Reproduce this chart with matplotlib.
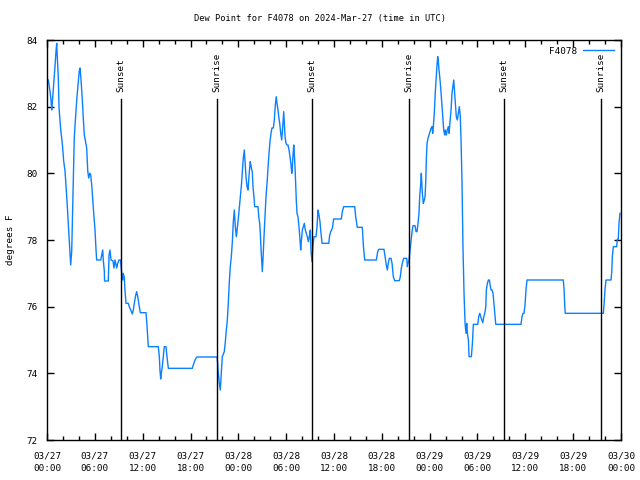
import matplotlib
matplotlib.use("Agg")
import matplotlib.pyplot as plt
from matplotlib.ticker import MultipleLocator

# ---------------- data ----------------
hours = [0.16, 0.25, 0.38, 0.50, 0.59, 0.66, 0.88, 1.00, 1.13, 1.22, 1.29, 1.42, 1.51, 1.63, 1.72,
         1.84, 1.97, 2.09, 2.26, 2.38, 2.51, 2.63, 2.76, 2.89, 2.97, 3.10, 3.26, 3.42, 3.60, 3.76,
         3.93, 4.05, 4.14, 4.27, 4.43, 4.55, 4.68, 4.98, 5.11, 5.23, 5.36, 5.48, 5.64, 5.81, 6.02,
         6.15, 6.23, 6.74, 6.86, 6.99, 7.06, 7.19, 7.22, 7.69, 7.78, 7.90, 8.03, 8.28, 8.40, 8.53,
         8.74, 8.87, 9.03, 9.22, 9.37, 9.50, 9.57, 9.70, 9.78, 9.91, 10.20, 10.32, 10.50, 10.70, 10.83,
         10.95, 11.13, 11.25, 11.38, 11.54, 11.70, 12.42, 12.51, 12.63, 12.71, 13.96, 14.09, 14.17, 14.26, 14.34,
         14.46, 14.59, 14.71, 14.93, 15.05, 15.22, 18.23, 18.35, 18.57, 18.78, 21.33, 21.41, 21.45, 21.54, 21.61,
         21.74, 21.83, 21.91, 21.99, 22.24, 22.37, 22.49, 22.62, 22.74, 22.87, 22.99, 23.12, 23.25, 23.37, 23.50,
         23.62, 23.75, 23.87, 24.00, 24.12, 24.25, 24.37, 24.50, 24.62, 24.75, 24.84, 24.96, 25.09, 25.21, 25.30,
         25.43, 25.50, 25.63, 25.75, 25.84, 25.97, 26.05, 26.47, 26.56, 26.68, 26.76, 26.84, 26.93, 27.01, 27.10,
         27.22, 27.35, 27.47, 27.60, 27.72, 27.85, 27.97, 28.10, 28.22, 28.39, 28.51, 28.64, 28.76, 28.85, 28.94,
         29.07, 29.19, 29.32, 29.44, 29.57, 29.69, 29.77, 29.86, 29.98, 30.11, 30.23, 30.36, 30.48, 30.61, 30.70,
         30.77, 30.86, 30.95, 31.02, 31.11, 31.20, 31.27, 31.36, 31.48, 31.61, 31.74, 31.82, 31.90, 32.03, 32.15,
         32.28, 32.40, 32.53, 32.65, 32.78, 32.90, 33.03, 33.12, 33.24, 33.37, 33.49, 33.74, 33.87, 33.99, 34.12,
         34.24, 34.33, 34.50, 35.34, 35.46, 35.59, 35.79, 35.96, 36.92, 37.04, 37.22, 38.60, 38.72, 38.92, 39.55,
         39.68, 39.85, 41.31, 41.48, 41.61, 42.27, 42.40, 42.56, 42.69, 42.81, 42.94, 43.15, 43.28, 43.44, 43.62,
         44.19, 44.32, 44.44, 44.62, 44.75, 45.12, 45.20, 45.28, 45.41, 45.54, 45.66, 45.79, 45.91, 46.16, 46.29,
         46.41, 46.54, 46.66, 46.75, 46.88, 46.95, 47.08, 47.20, 47.33, 47.42, 47.50, 47.58, 47.67, 47.79, 47.92,
         48.04, 48.17, 48.29, 48.38, 48.46, 48.58, 48.71, 48.83, 48.92, 49.01, 49.09, 49.17, 49.30, 49.42, 49.55,
         49.67, 49.76, 49.89, 49.96, 50.09, 50.21, 50.34, 50.43, 50.55, 50.68, 50.80, 50.93, 51.02, 51.09, 51.22,
         51.34, 51.47, 51.59, 51.72, 51.84, 51.93, 52.06, 52.18, 52.31, 52.44, 52.56, 52.65, 52.73, 52.86, 52.94,
         53.23, 53.36, 53.48, 54.03, 54.16, 54.28, 54.41, 54.54, 54.66, 54.79, 54.91, 55.04, 55.11, 55.24, 55.37,
         55.49, 55.58, 55.70, 55.83, 55.95, 56.08, 56.20, 56.29, 59.46, 59.58, 59.71, 59.83, 59.96, 60.08, 60.21,
         64.76, 64.85, 64.94, 65.01, 69.78, 69.87, 69.99, 70.12, 70.75, 70.84, 70.91, 71.04, 71.46, 71.54, 71.66,
         71.75, 71.87]
dewpoint = [82.8, 82.66, 82.46, 82.2, 81.9, 82.1, 82.8, 83.2, 83.67, 83.9, 83.5, 82.86, 81.96, 81.6, 81.3,
            81.06, 80.76, 80.37, 80.07, 79.66, 79.17, 78.66, 78.15, 77.55, 77.25, 77.67, 79.35, 81.06, 81.75, 82.3,
            82.77, 83.07, 83.16, 82.8, 82.2, 81.66, 81.15, 80.76, 80.07, 79.86, 80.0, 79.96, 79.56, 78.96, 78.3,
            77.7, 77.4, 77.4, 77.55, 77.7, 77.4, 77.07, 76.77, 76.77, 77.55, 77.7, 77.4, 77.37, 77.16, 77.4,
            77.16, 77.3, 77.4, 77.4, 77.0, 76.8, 77.0, 76.86, 76.5, 76.1, 76.1, 76.0, 75.9, 75.78, 75.9,
            76.1, 76.35, 76.45, 76.3, 76.05, 75.82, 75.82, 75.55, 75.07, 74.8, 74.8, 74.5, 74.1, 73.83, 74.0,
            74.2, 74.5, 74.8, 74.8, 74.5, 74.15, 74.15, 74.25, 74.4, 74.49, 74.49, 74.3, 74.1, 73.9, 73.7,
            73.5, 73.9, 74.2, 74.5, 74.65, 74.95, 75.3, 75.6, 76.1, 76.75, 77.2, 77.5, 77.95, 78.55, 78.9,
            78.4, 78.1, 78.35, 78.65, 78.96, 79.26, 79.6, 80.05, 80.46, 80.7, 80.35, 79.9, 79.6, 79.5, 79.8,
            80.2, 80.35, 80.16, 80.05, 79.6, 79.26, 79.0, 79.0, 78.7, 78.5, 78.2, 77.76, 77.4, 77.05, 77.46,
            78.1, 78.7, 79.3, 79.7, 80.16, 80.6, 80.95, 81.2, 81.36, 81.36, 81.6, 82.05, 82.3, 82.1, 81.96,
            81.7, 81.5, 81.2, 81.0, 81.4, 81.85, 81.5, 81.1, 80.9, 80.85, 80.85, 80.7, 80.5, 80.25, 80.0,
            80.16, 80.55, 80.85, 80.6, 80.2, 79.6, 79.2, 78.8, 78.7, 78.4, 78.0, 77.7, 77.95, 78.3, 78.4,
            78.5, 78.3, 78.2, 78.1, 77.95, 78.1, 78.3, 77.65, 77.35, 77.85, 78.1, 78.1, 78.4, 78.9, 78.75,
            78.55, 78.3, 77.9, 77.9, 78.15, 78.25, 78.35, 78.63, 78.63, 78.85, 79.0, 79.0, 78.7, 78.38, 78.38,
            77.85, 77.4, 77.4, 77.65, 77.72, 77.72, 77.5, 77.25, 77.1, 77.3, 77.45, 77.45, 77.3, 76.9, 76.78,
            76.78, 76.9, 77.15, 77.35, 77.45, 77.45, 77.2, 77.3, 77.4, 77.7, 77.95, 78.25, 78.43, 78.43, 78.25,
            78.25, 78.5, 78.8, 79.3, 79.7, 80.0, 79.4, 79.1, 79.2, 79.3, 79.7, 80.4, 80.9, 81.05, 81.15,
            81.25, 81.35, 81.4, 81.2, 81.4, 81.8, 82.45, 82.9, 83.25, 83.5, 83.35, 83.1, 82.8, 82.45, 82.0,
            81.55, 81.3, 81.15, 81.3, 81.15, 81.3, 81.4, 81.2, 81.55, 81.9, 82.4, 82.65, 82.8, 82.55, 82.1,
            81.7, 81.6, 81.8, 82.0, 81.7, 81.05, 79.7, 77.75, 76.4, 75.5, 75.2, 75.5, 75.2, 75.0, 74.5,
            74.5, 74.9, 75.47, 75.47, 75.7, 75.8, 75.7, 75.6, 75.52, 75.7, 75.8, 76.0, 76.5, 76.7, 76.8,
            76.8, 76.65, 76.5, 76.5, 76.4, 76.05, 75.7, 75.47, 75.47, 75.7, 75.8, 75.8, 76.05, 76.5, 76.8,
            76.8, 76.55, 76.05, 75.8, 75.8, 76.05, 76.5, 76.8, 76.8, 77.05, 77.5, 77.8, 77.8, 78.02, 78.02,
            78.5, 78.8]

sun_hours = [9.24, 21.36, 33.28, 45.41, 57.33, 69.43]
sun_labels = ["Sunset", "Sunrise", "Sunset", "Sunrise", "Sunset", "Sunrise"]

xtick_hours = [0, 6, 12, 18, 24, 30, 36, 42, 48, 54, 60, 66, 72]
xtick_labels = ["03/27\n00:00", "03/27\n06:00", "03/27\n12:00", "03/27\n18:00",
                "03/28\n00:00", "03/28\n06:00", "03/28\n12:00", "03/28\n18:00",
                "03/29\n00:00", "03/29\n06:00", "03/29\n12:00", "03/29\n18:00",
                "03/30\n00:00"]
yticks = [72, 74, 76, 78, 80, 82, 84]

title = "Dew Point for F4078 on 2024-Mar-27 (time in UTC)"
series_name = "F4078"

# ---------------- plot ----------------
plt.rcParams['font.family'] = ['DejaVu Sans Mono']
FS = 6.2

fig = plt.figure(figsize=(6.4, 4.8), dpi=100)
ax = fig.add_axes([47/640, 40/480, (621-47)/640, 400/480])

ax.plot(hours, dewpoint, color='#0a80ff', lw=1.0, label=series_name)

for h, lab in zip(sun_hours, sun_labels):
    ax.plot([h, h], [72, 82.23], color='black', lw=1.0)
    ax.text(h, 82.45, lab, rotation=90, ha='center', va='bottom', fontsize=FS + 0.5)

ax.set_xlim(0, 72)
ax.set_ylim(72, 84)
ax.set_xticks(xtick_hours)
ax.set_xticklabels(xtick_labels, fontsize=FS + 0.5, linespacing=1.6)
ax.xaxis.set_minor_locator(MultipleLocator(2))
ax.set_yticks(yticks)
ax.set_yticklabels([str(v) for v in yticks], fontsize=FS + 0.5)

ax.tick_params(axis='both', which='major', direction='in', length=5, width=1,
               top=True, right=True, pad=8)
ax.tick_params(axis='y', which='major', pad=7)
ax.tick_params(axis='x', which='minor', direction='in', length=3, width=1, top=True)
for s in ax.spines.values():
    s.set_linewidth(1.0)

ax.set_ylabel("degrees F", fontsize=FS + 0.5, labelpad=8)
fig.text(0.5, 1 - 19/480, title, ha='center', va='center', fontsize=FS)

leg = ax.legend(loc='upper right', frameon=False, fontsize=FS + 0.5, handlelength=3.4,
                handletextpad=0.6, borderaxespad=0.3, markerfirst=False)

fig.savefig("out.png", dpi=100)
